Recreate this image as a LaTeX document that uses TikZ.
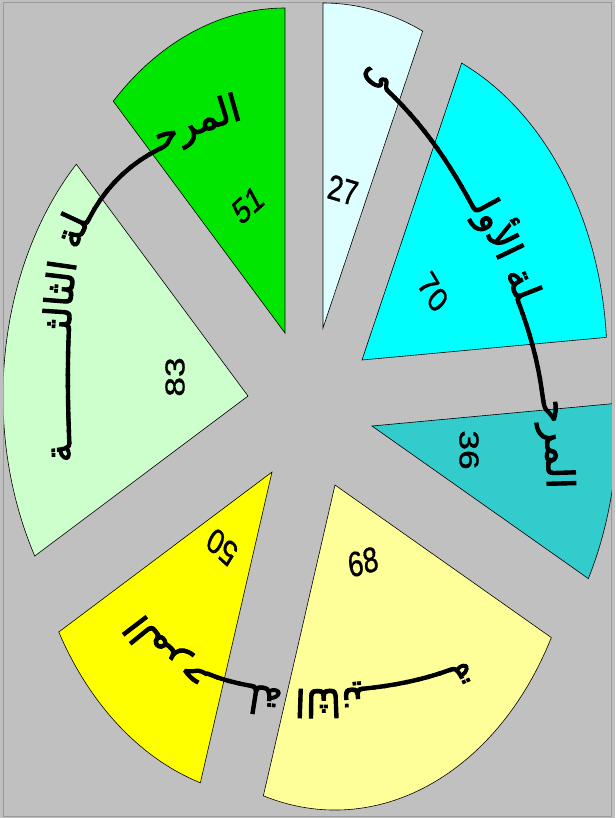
\documentclass[tikz,border=0pt]{standalone}
\usepackage{fontspec}
\usetikzlibrary{decorations.text}
\newfontfamily\arfont[Script=Arabic,FakeBold=2.5]{DejaVu Sans}
\newfontfamily\numfont[FakeBold=1]{Liberation Sans}
\newcommand\arfmt{\arfont\fontsize{9.5}{10}\selectfont}
\definecolor{bg}{HTML}{C0C0C0}
\definecolor{framec}{HTML}{9A9A9A}
\definecolor{cA}{HTML}{DDFFFF}
\definecolor{cB}{HTML}{00FFFF}
\definecolor{cC}{HTML}{33CCCC}
\definecolor{cD}{HTML}{FFFF99}
\definecolor{cE}{HTML}{FFFF00}
\definecolor{cF}{HTML}{CCFFCC}
\definecolor{cG}{HTML}{00E600}
\newcommand\pieslice[5]{\draw[sec, fill=#5] (#1,#2) -- ++(#3:61.25pt and 81.25pt)
  arc[start angle=#3, end angle=#4, x radius=61.25pt, y radius=81.25pt] -- cycle;}
\begin{document}
\begin{tikzpicture}[x=0.25pt,y=0.25pt,
  sec/.style={draw=black, line width=0.15pt, line join=miter},
  num/.style={font=\numfont\fontsize{6.8}{7}\selectfont, yscale=1.3, inner sep=0pt}]
\useasboundingbox (0,0) rectangle (615,-818);
\fill[bg] (0,0) rectangle (615,-818);
\draw[framec, line width=0.25pt] (4,-2) rectangle (612,-816);
\begin{scope}
\clip (4,-2) rectangle (612,-816);
\pieslice{323}{-328}{90}{66}{cA}
\pieslice{362}{-360}{66}{4}{cB}
\pieslice{372}{-426}{4}{-28}{cC}
\pieslice{335}{-485}{-28}{-107}{cD}
\pieslice{272}{-472}{-107}{-150.5}{cE}
\pieslice{248}{-396}{-150.5}{-225.5}{cF}
\pieslice{285}{-333}{134.5}{90}{cG}
\end{scope}
\node[num, rotate=-13] (n27) at (343,-190) {27};
\node[num, rotate=-52] (n70) at (433,-292) {70};
\node[num, rotate=-90] (n36) at (469,-450) {36};
\node[num, rotate=12] (n68) at (363,-562) {68};
\node[num, rotate=145] (n50) at (222,-547) {50};
\node[num, rotate=90] (n83) at (175,-377) {83};
\node[num, rotate=35] (n51) at (248,-205) {51};
% right text: المرحلة الأولى
\path[decorate, decoration={text along path,
  text={|\arfmt|^^^^fef0^^^^0640^^^^0640^^^^0640^^^^0640^^^^0640^^^^0640^^^^0640^^^^0640^^^^0640^^^^0640^^^^0640^^^^0640^^^^0640^^^^fedf^^^^feed^^^^fef7^^^^fe8d ^^^^fe94^^^^fee0^^^^0640^^^^0640^^^^0640^^^^0640^^^^0640^^^^0640^^^^0640^^^^0640^^^^0640^^^^fea3^^^^feae^^^^fee4^^^^fedf^^^^fe8d}}]
  (362,-70) .. controls (410,-110) and (440,-150) .. (470,-205)
  .. controls (500,-260) and (530,-320) .. (540,-390)
  .. controls (546,-430) and (548,-470) .. (548,-600);
% left text: المرحلة الثالثة
\path[decorate, decoration={text along path,
  text={|\arfmt|^^^^fe94^^^^0640^^^^0640^^^^0640^^^^0640^^^^0640^^^^0640^^^^0640^^^^0640^^^^0640^^^^0640^^^^fe9c^^^^fedf^^^^fe8e^^^^fe9c^^^^fedf^^^^fe8d ^^^^fe94^^^^fee0^^^^0640^^^^0640^^^^0640^^^^0640^^^^0640^^^^0640^^^^0640^^^^0640^^^^0640^^^^fea3^^^^feae^^^^fee4^^^^fedf^^^^fe8d}}]
  (72,-462) .. controls (68,-390) and (68,-300) .. (80,-245)
  .. controls (95,-200) and (125,-165) .. (170,-146)
  .. controls (205,-130) and (245,-114) .. (340,-100);
% bottom text: المرحلة الثانية
\path[decorate, decoration={text along path,
  text={|\arfmt|^^^^fe94^^^^0640^^^^0640^^^^0640^^^^0640^^^^0640^^^^0640^^^^0640^^^^0640^^^^fef4^^^^fee7^^^^fe8e^^^^fe9c^^^^fedf^^^^fe8d ^^^^fe94^^^^fee0^^^^0640^^^^0640^^^^0640^^^^0640^^^^fea3^^^^feae^^^^fee4^^^^fedf^^^^fe8d}}]
  (468,-660) .. controls (400,-695) and (260,-700) .. (200,-668)
  .. controls (170,-650) and (150,-625) .. (110,-565);
\end{tikzpicture}
\end{document}
